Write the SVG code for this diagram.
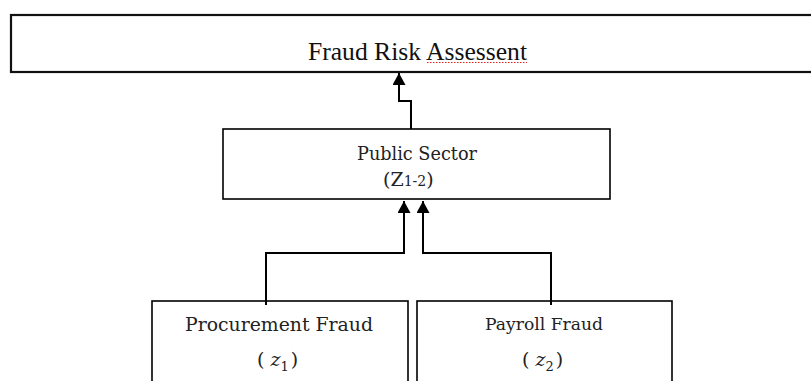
<svg xmlns="http://www.w3.org/2000/svg" width="811" height="381" viewBox="0 0 811 381">
<style>
.box{fill:#fff;stroke:#000;stroke-width:1.6}
.top{fill:#fff;stroke:#111;stroke-width:2.2}
.conn{fill:none;stroke:#000;stroke-width:2}
.tnr{font-family:"Liberation Serif","Times New Roman",serif;fill:#111}
.cam{font-family:"DejaVu Serif","Liberation Serif",serif;fill:#222}
.it{font-style:italic}
</style>
<defs>
<marker id="ah" viewBox="0 0 12 13" markerWidth="12" markerHeight="13" refX="12" refY="6.5" orient="auto" markerUnits="userSpaceOnUse">
<path d="M0,0 L12,6.5 L0,13 z" fill="#000"/>
</marker>
</defs>
<rect width="811" height="381" fill="#fff"/>
<g id="node-fraud-risk">
<rect class="top" x="11" y="15" width="830" height="57"/>
<text class="tnr" x="308" y="60" font-size="25" textLength="219" lengthAdjust="spacingAndGlyphs">Fraud Risk Assessent</text>
<line x1="427" y1="62.5" x2="527" y2="62.5" stroke="#e02020" stroke-width="1" stroke-dasharray="1.5,1.5"/>
</g>
<g id="node-public-sector">
<rect class="box" x="223" y="129" width="387" height="70"/>
<text class="cam" x="357" y="160" font-size="18" textLength="120" lengthAdjust="spacingAndGlyphs">Public Sector</text>
<text class="cam" x="383" y="186" font-size="19">(Z<tspan font-size="14">1-2</tspan>)</text>
</g>
<g id="node-procurement">
<rect class="box" x="152" y="301" width="256" height="100"/>
<text class="cam" x="185" y="331" font-size="18.5" textLength="188" lengthAdjust="spacingAndGlyphs">Procurement Fraud</text>
<text class="cam" x="257" y="366" font-size="19">( <tspan class="it">z</tspan><tspan font-size="13" dy="5">1</tspan><tspan dy="-5" dx="2">)</tspan></text>
</g>
<g id="node-payroll">
<rect class="box" x="417" y="301" width="255" height="100"/>
<text class="cam" x="485" y="330" font-size="17.5" textLength="118" lengthAdjust="spacingAndGlyphs">Payroll Fraud</text>
<text class="cam" x="522" y="366" font-size="19">( <tspan class="it">z</tspan><tspan font-size="13" dy="5">2</tspan><tspan dy="-5" dx="2">)</tspan></text>
</g>
<g id="connectors">
<path class="conn" d="M411,129 V101 H399 V73" marker-end="url(#ah)"/>
<path class="conn" d="M266,305 V253 H404 V201" marker-end="url(#ah)"/>
<path class="conn" d="M551,305 V253 H423 V201" marker-end="url(#ah)"/>
</g>
</svg>
